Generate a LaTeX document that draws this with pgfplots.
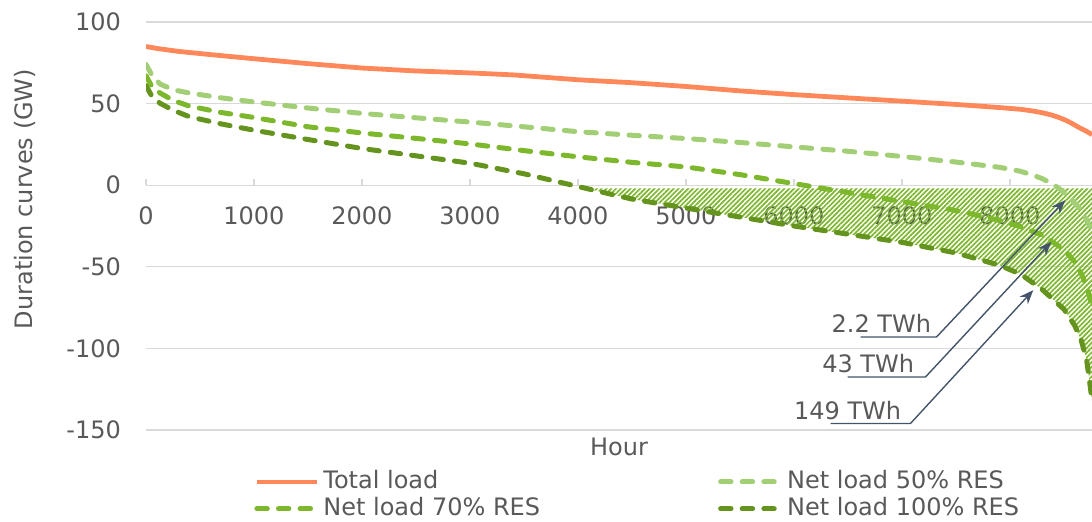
\documentclass[border=0pt]{standalone}
\usepackage{fontspec}
\setmainfont{DejaVu Sans}
\usepackage{pgfplots}
\pgfplotsset{compat=1.18}
\usetikzlibrary{patterns.meta, arrows.meta}

\definecolor{totcol}{RGB}{255,136,90}
\definecolor{res50}{RGB}{162,206,118}
\definecolor{res70}{RGB}{124,183,44}
\definecolor{res100}{RGB}{100,148,30}
\definecolor{txt}{RGB}{89,89,89}
\definecolor{grd}{RGB}{217,217,217}
\definecolor{arr}{RGB}{68,84,106}

\newcommand{\lbl}{\fontsize{12}{14}\selectfont}

\begin{document}
\begin{tikzpicture}
\begin{axis}[
  name=ax,
  scale only axis, width=473pt, height=204pt,
  xmin=0, xmax=8760, ymin=-150, ymax=100,
  axis x line=middle, axis y line=left,
  y axis line style={draw=none},
  x axis line style={draw=grd, line width=0.6pt, -},
  xtick={0,1000,...,8000}, ytick={-150,-100,...,100},
  ymajorgrids, grid style={grd, line width=0.6pt},
  tick align=inside, major tick length=3pt,
  xtick style={draw=grd, line width=0.6pt}, ytick style={draw=none},
  hide obscured x ticks=false,
  ticklabel style={font=\lbl, text=txt},
  /pgf/number format/assume math mode=true,
  /pgf/number format/1000 sep={},
  xticklabel style={yshift=-7pt},
  yticklabel style={xshift=-9pt},
  every axis x label/.style={at={(rel axis cs:0.5,0)}, anchor=center, yshift=-8.5pt, font=\lbl, text=txt},
  every axis y label/.style={at={(rel axis cs:0,0.566)}, anchor=center, xshift=-60.5pt, rotate=90, font=\lbl, text=txt},
  xlabel={Hour}, ylabel={Duration curves (GW)},
  legend columns=2,
  legend image code/.code={\draw[#1] (0pt,0pt) -- (30pt,0pt);},
  legend style={at={(rel axis cs:0,0)}, anchor=north west, xshift=51pt, yshift=-17pt,
    draw=none, fill=none, font=\lbl, text=txt, cells={anchor=west},
    nodes={inner ysep=1pt, text height=9pt, text depth=2.5pt},
    /tikz/every even column/.append style={column sep=87pt}},
  dsh/.style={line width=2.5pt, line cap=round, dash pattern=on 5.2pt off 5.6pt},
]
% negative net load area (hatched)
\addplot[draw=none, pattern={Lines[angle=45, distance=1.7pt, line width=0.85pt]}, pattern color=res70, forget plot]
  coordinates {(4080,-2) (4500,-8.5) (5000,-14) (5500,-19.5) (6000,-25) (6500,-30) (7000,-35)
   (7500,-41.5) (7900,-49) (8100,-54.5) (8300,-64) (8500,-76) (8600,-86) (8660,-95)
   (8710,-107) (8743,-123) (8760,-132) (8760,-2) (4080,-2)};

\addplot[totcol, line width=2.4pt, line join=round] coordinates {
 (0,85) (100,83.8) (300,82) (600,80) (1000,77.5) (1500,74.5) (2000,71.8) (2500,70)
 (3000,68.8) (3400,67.6) (4000,64.6) (4500,62.8) (5000,60.5) (5500,57.8) (6000,55.5)
 (6500,53.5) (7000,51.5) (7500,49.5) (7900,47.6) (8100,46.5) (8200,45.6) (8300,44.4)
 (8380,43.1) (8450,41.6) (8510,40) (8570,38) (8650,35) (8710,33) (8760,31)};
\addlegendentry{Total load}

\addplot[res50, dsh] coordinates {
 (0,74) (50,68) (130,62) (250,58.5) (400,56.5) (700,53.5) (1000,51) (1500,47.3)
 (2000,44) (2500,41.3) (3000,38.7) (3500,35.8) (4000,32.8) (4500,30.6) (5000,28.6)
 (5500,26.2) (6000,23.5) (6500,20.8) (7000,17.6) (7500,14.2) (7900,11) (8100,8.5)
 (8220,6) (8300,4) (8400,0.5) (8475,-3) (8550,-7.5) (8630,-13) (8700,-20) (8760,-28)};
\addlegendentry{Net load 50\% RES}

\addplot[res70, dsh] coordinates {
 (0,67) (50,61) (130,56.5) (250,52) (400,48.5) (700,44.5) (1000,41.5) (1500,35.8)
 (2000,32) (2500,28.7) (3000,25.3) (3500,21.2) (4000,17.4) (4500,14) (5000,11.2)
 (5500,6.5) (6000,1) (6500,-4.5) (7000,-10) (7500,-15.5) (7900,-21.5) (8100,-25.5)
 (8300,-30.5) (8500,-39.5) (8600,-47) (8660,-54) (8720,-64) (8760,-74)};
\addlegendentry{Net load 70\% RES}

\addplot[res100, dsh] coordinates {
 (0,61) (50,55) (130,50.2) (250,46) (400,42) (700,37.5) (1000,33.7) (1500,28)
 (2000,22.5) (2500,18) (3000,13.5) (3500,7) (4000,-0.8) (4500,-8.5) (5000,-14)
 (5500,-19.5) (6000,-25) (6500,-30) (7000,-35) (7500,-41.5) (7900,-49) (8100,-54.5)
 (8300,-64) (8500,-76) (8600,-86) (8660,-95) (8710,-107) (8743,-123) (8760,-132)};
\addlegendentry{Net load 100\% RES}

% annotations
\draw[arr, line width=0.7pt, -{Stealth[length=7pt, width=5.5pt]}]
  (axis cs:6617,-93) -- (axis cs:7320,-93) -- (axis cs:8512,-9.2);
\draw[arr, line width=0.7pt, -{Stealth[length=7pt, width=5.5pt]}]
  (axis cs:6497,-117.5) -- (axis cs:7218,-117.5) -- (axis cs:8383,-34.7);
\draw[arr, line width=0.7pt, -{Stealth[length=7pt, width=5.5pt]}]
  (axis cs:6340,-146) -- (axis cs:7079,-146) -- (axis cs:8216,-64.3);
\node[anchor=south east, inner sep=1pt, font=\lbl, text=txt] at (axis cs:7292,-92) {2.2 TWh};
\node[anchor=south east, inner sep=1pt, font=\lbl, text=txt] at (axis cs:7135,-116.5) {43 TWh};
\node[anchor=south east, inner sep=1pt, font=\lbl, text=txt] at (axis cs:7015,-145) {149 TWh};
\end{axis}
\pgfresetboundingbox
\path[use as bounding box] ([xshift=-73pt, yshift=-45.5pt]ax.south west) rectangle ([yshift=11pt]ax.north east);
\end{tikzpicture}
\end{document}
